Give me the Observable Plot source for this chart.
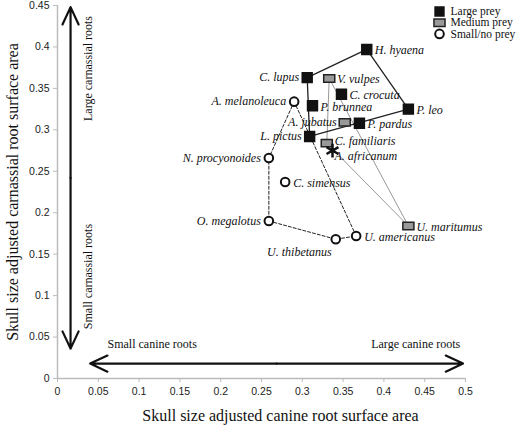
<!DOCTYPE html>
<html><head><meta charset="utf-8">
<script src="https://cdn.jsdelivr.net/npm/d3@7"></script>
<script src="https://cdn.jsdelivr.net/npm/@observablehq/plot@0.6"></script>
<style>body{margin:0;background:#fff}</style>
</head><body><div id="chart"></div>
<script>
const species = ["H. hyaena","C. lupus","V. vulpes","C. crocuta","P. leo","A. melanoleuca","P. brunnea","A. jubatus","P. pardus","L. pictus","C. familiaris","A. africanum","N. procyonoides","C. simensus","O. megalotus","U. thibetanus","U. americanus","U. maritumus"];
const canine = [0.379,0.306,0.333,0.348,0.430,0.290,0.3125,0.352,0.370,0.309,0.330,0.337,0.259,0.279,0.259,0.341,0.366,0.430];
const carnassial = [0.397,0.363,0.362,0.343,0.325,0.334,0.329,0.309,0.308,0.292,0.284,0.275,0.266,0.237,0.190,0.168,0.172,0.184];
const preyClass = ["Large","Large","Medium","Large","Large","Small","Large","Medium","Large","Large","Medium","Fossil","Small","Small","Small","Small","Small","Medium"];
const labelSide = ["right","left","right","right","right","left","right","left","right","left","upright","over","left","right","left","below","right","right"];

const largeHull = ["C. lupus","H. hyaena","P. leo","L. pictus","C. lupus"];
const mediumHull = ["V. vulpes","U. maritumus","C. familiaris","V. vulpes"];
const smallHull = ["A. melanoleuca","N. procyonoides","O. megalotus","U. thibetanus","U. americanus","A. melanoleuca"];

const legendLabels = ["Large prey","Medium prey","Small/no prey"];
const xTicks = [0,0.05,0.1,0.15,0.2,0.25,0.3,0.35,0.4,0.45,0.5];
const yTicks = [0,0.05,0.1,0.15,0.2,0.25,0.3,0.35,0.4,0.45];
const xTitle = "Skull size adjusted canine root surface area";
const yTitle = "Skull size adjusted carnassial root surface area";
// annotation arrows (data coordinates) and texts
const vArrow = {x: 0.016, y1: 0.036, y2: 0.448};
const hArrow = {y: 0.018, x1: 0.04, x2: 0.497};
const annotTexts = [
  {t: "Large carnassial roots", x: 0.038, y: 0.374, rot: -90},
  {t: "Small carnassial roots", x: 0.038, y: 0.123, rot: -90},
  {t: "Small canine roots", x: 0.116, y: 0.042, rot: 0},
  {t: "Large canine roots", x: 0.439, y: 0.042, rot: 0}
];

const data = species.map((s,i)=>({name:s, x:canine[i], y:carnassial[i], cls:preyClass[i], side:labelSide[i]}));
const byName = new Map(data.map(d=>[d.name,d]));
const path = arr => arr.map(n=>byName.get(n));

const rectSymbol = {draw(ctx, size){const s=Math.sqrt(size); const w=s*0.6, h=s*0.4; ctx.moveTo(-w,-h); ctx.lineTo(w,-h); ctx.lineTo(w,h); ctx.lineTo(-w,h); ctx.closePath();}};

const serif = "'Liberation Serif', 'DejaVu Serif', serif";
const sans = "'Liberation Sans', Arial, sans-serif";
const lblFont = {fontFamily: serif, fontStyle: "italic", fontSize: 12, fill: "#111"};

const vMid = (vArrow.y1+vArrow.y2)/2, hMid = (hArrow.x1+hArrow.x2)/2;

const legendMarks = [];
[["Large", {symbol:"square", fill:"#111", stroke:"#111", r:5}],
 ["Medium", {symbol:rectSymbol, fill:"#999", stroke:"#222", strokeWidth:1.5, r:5.2}],
 ["Small", {symbol:"circle", fill:"white", stroke:"#111", strokeWidth:2, r:4.3}]].forEach(([c,o],i)=>{
  legendMarks.push(Plot.dot([legendLabels[i]], {frameAnchor:"top-right", dx:-26, dy:6+i*11.2, ...o}));
  legendMarks.push(Plot.text([legendLabels[i]], {text:d=>d, frameAnchor:"top-right", dx:-15, dy:6+i*11.2, textAnchor:"start", lineAnchor:"middle", fontFamily:serif, fontSize:11.5, fill:"#111"}));
});

const chart = Plot.plot({
  width: 520, height: 425,
  marginLeft: 57, marginRight: 55, marginTop: 5, marginBottom: 47,
  style: {fontFamily: sans, background: "white", overflow: "visible"},
  x: {domain: [0, 0.5]},
  y: {domain: [0, 0.45]},
  marks: [
    Plot.ruleX([0], {stroke:"#bbb", strokeWidth:1.5}),
    Plot.ruleY([0], {stroke:"#bbb", strokeWidth:1.5}),
    Plot.axisX({ticks: xTicks, tickFormat: d=>String(d), tickSize: 4, stroke:"#bbb", fontSize: 10.5, fill:"#222", label: null, tickPadding: 5}),
    Plot.axisY({ticks: yTicks, tickFormat: d=>String(d), tickSize: 4, stroke:"#bbb", fontSize: 10.5, fill:"#222", label: null, tickPadding: 4}),
    Plot.text([xTitle], {text:d=>d, frameAnchor:"bottom", dy:37, dx:19, textAnchor:"middle", lineAnchor:"middle", fontFamily:serif, fontSize:16, fill:"#111"}),
    Plot.text([yTitle], {text:d=>d, frameAnchor:"left", dx:-45, rotate:-90, textAnchor:"middle", lineAnchor:"middle", fontFamily:serif, fontSize:16, fill:"#111"}),
    // arrows
    Plot.arrow([0,1], {x1: vArrow.x, x2: vArrow.x, y1: vMid, y2: (d)=> d? vArrow.y2 : vArrow.y1, stroke:"#111", strokeWidth:2.2, headLength:13, headAngle:50}),
    Plot.arrow([0,1], {y1: hArrow.y, y2: hArrow.y, x1: hMid, x2: (d)=> d? hArrow.x2 : hArrow.x1, stroke:"#111", strokeWidth:2.2, headLength:13, headAngle:50}),
    Plot.text(annotTexts, {x:"x", y:"y", text:"t", rotate:"rot", fontFamily:serif, fontSize:12, fill:"#111"}),
    // hulls
    Plot.line(path(mediumHull), {x:"x", y:"y", stroke:"#999", strokeWidth:1}),
    Plot.line(path(smallHull), {x:"x", y:"y", stroke:"#222", strokeWidth:1, strokeDasharray:"3,2"}),
    Plot.line(path(largeHull), {x:"x", y:"y", stroke:"#222", strokeWidth:1.3}),
    // points
    Plot.dot(data.filter(d=>d.cls==="Small"), {x:"x", y:"y", symbol:"circle", r:4.3, fill:"white", stroke:"#111", strokeWidth:2}),
    Plot.dot(data.filter(d=>d.cls==="Medium"), {x:"x", y:"y", symbol:rectSymbol, r:5.2, fill:"#999", stroke:"#222", strokeWidth:1.5}),
    Plot.dot(data.filter(d=>d.cls==="Large"), {x:"x", y:"y", symbol:"square", r:5.6, fill:"#111", stroke:"#111"}),
    Plot.dot(data.filter(d=>d.cls==="Fossil"), {x:"x", y:"y", symbol:"asterisk", r:6.5, stroke:"#111", strokeWidth:2.5}),
    // labels
    Plot.text(data.filter(d=>d.side==="right"), {x:"x", y:"y", text:"name", dx:8, dy:1, textAnchor:"start", ...lblFont}),
    Plot.text(data.filter(d=>d.side==="upright"), {x:"x", y:"y", text:"name", dx:8, dy:-2, textAnchor:"start", ...lblFont}),
    Plot.text(data.filter(d=>d.side==="left"), {x:"x", y:"y", text:"name", dx:-8, textAnchor:"end", ...lblFont}),
    Plot.text(data.filter(d=>d.side==="over"), {x:"x", y:"y", text:"name", dx:2, dy:6, textAnchor:"start", ...lblFont}),
    Plot.text(data.filter(d=>d.side==="below"), {x:"x", y:"y", text:"name", dx:-4, dy:13, textAnchor:"end", ...lblFont}),
    ...legendMarks
  ]
});
document.getElementById("chart").append(chart);
</script>
</body></html>
